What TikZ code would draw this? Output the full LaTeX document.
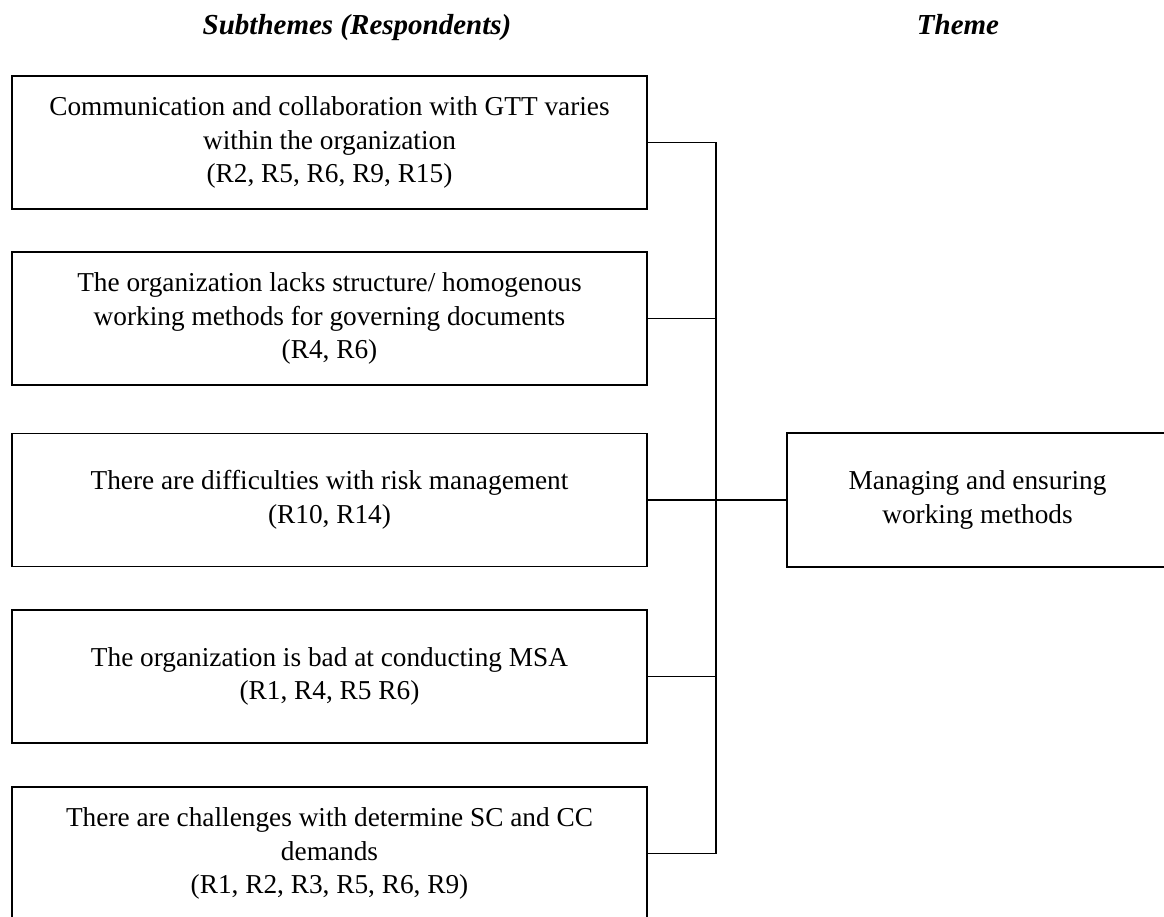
\documentclass[tikz,border=0pt]{standalone}
\usepackage{fontspec}
\setmainfont{Liberation Serif}
\begin{document}
\begin{tikzpicture}[x=1pt,y=-1pt,
  subbox/.style={draw,line width=1.6pt,minimum width=635pt,minimum height=133pt,inner sep=0pt,align=center,font=\fontsize{27.3}{33.5}\selectfont},
  themebox/.style={subbox,minimum width=381pt,minimum height=134pt},
  head/.style={anchor=base,font=\fontsize{29}{34}\selectfont\bfseries\itshape},
  link/.style={line width=1.5pt}]
\clip (0,0) rectangle (1164,917);
% column headings
\node[head] (hsub) at (357,35) {Subthemes (Respondents)};
\node[head] (htheme) at (958,35) {Theme};
% subthemes
\node[subbox] (s1) at (329.5,142.5) {Communication and collaboration with GTT varies\\within the organization\\(R2, R5, R6, R9, R15)};
\node[subbox] (s2) at (329.5,318.5) {The organization lacks structure/ homogenous\\working methods for governing documents\\(R4, R6)};
\node[subbox] (s3) at (329.5,500) {There are difficulties with risk management\\(R10, R14)};
\node[subbox] (s4) at (329.5,676.5) {The organization is bad at conducting MSA\\(R1, R4, R5 R6)};
\node[subbox] (s5) at (329.5,853.5) {There are challenges with determine SC and CC\\demands\\(R1, R2, R3, R5, R6, R9)};
% theme
\node[themebox] (theme) at (977.5,500) {Managing and ensuring\\working methods};
% bracket
\coordinate (trunk) at (716,0);
\foreach \s in {s1,s2,s3,s4,s5}
  \draw[link] (\s.east) -- (\s.east -| trunk);
\draw[link] (s1.east -| trunk) -- (s5.east -| trunk);
\draw[link] (s3.east -| trunk) -- (theme.west);
\end{tikzpicture}
\end{document}
